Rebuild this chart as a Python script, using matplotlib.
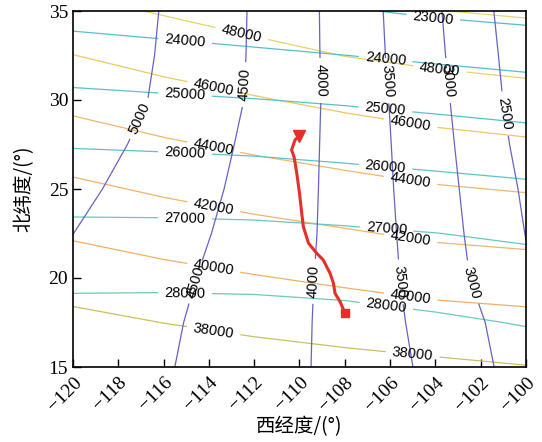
import numpy as np
import matplotlib
matplotlib.use("Agg")
import matplotlib.pyplot as plt

# grid nodes (deg)
lon = [-120, -116, -112, -108, -104, -100]
lat = [15, 17.5, 20, 22.5, 25, 27.5, 30, 32.5, 35]

# purple field, rows = lat, cols = lon
field_a = [
    [4850, 4539, 4224, 3867, 3379, 2794],
    [4827, 4571, 4250, 3859, 3324, 2735],
    [4902, 4622, 4284, 3854, 3270, 2558],
    [5002, 4690, 4330, 3854, 3235, 2490],
    [5115, 4761, 4370, 3848, 3203, 2432],
    [5245, 4837, 4405, 3844, 3173, 2351],
    [5380, 4919, 4446, 3840, 3138, 2281],
    [5440, 4951, 4455, 3828, 3096, 2239],
    [5450, 4975, 4459, 3821, 3063, 2190],
]
# cyan field
field_b = [
    [28875, 28885, 28865, 28770, 28582, 28418],
    [28354, 28365, 28344, 28270, 28127, 27957],
    [27814, 27822, 27798, 27723, 27586, 27426],
    [27233, 27230, 27202, 27120, 27011, 26861],
    [26605, 26581, 26535, 26429, 26300, 26167],
    [25942, 25884, 25811, 25689, 25554, 25406],
    [25217, 25122, 25025, 24900, 24746, 24571],
    [24444, 24309, 24166, 24007, 23827, 23654],
    [23633, 23473, 23284, 23090, 22846, 22692],
]
# orange / yellow field
field_c = [
    [36162, 36649, 37029, 37353, 37635, 37938],
    [37514, 38020, 38457, 38836, 39211, 39455],
    [38865, 39408, 39886, 40328, 40769, 41000],
    [40222, 40829, 41353, 41821, 42306, 42563],
    [41611, 42269, 42848, 43354, 43835, 44129],
    [43059, 43761, 44358, 44892, 45403, 45742],
    [44522, 45235, 45851, 46444, 46939, 47273],
    [45971, 46698, 47343, 48032, 48452, 48765],
    [47463, 48151, 48875, 49619, 49958, 50235],
]

levels_a = [2500, 3000, 3500, 4000, 4500, 5000]
levels_b = [23000, 24000, 25000, 26000, 27000, 28000]
levels_c = [38000, 40000, 42000, 44000, 46000, 48000, 50000]

# label spots
labels_a = [(-117.05, 28.95), (-112.27, 30.85), (-114.1, 19.6), (-108.97, 31.1),
            (-109.12, 19.8), (-105.95, 31.1), (-105.45, 19.8), (-103.36, 31.1),
            (-102.3, 19.8), (-100.85, 29.25)]
labels_b = [(-104.1, 34.6), (-115.05, 33.3), (-106.2, 32.25), (-115.05, 30.3),
            (-106.2, 29.55), (-115.05, 27.1), (-106.2, 26.3), (-115.05, 23.45),
            (-106.15, 22.8), (-115.05, 19.2), (-106.15, 18.6)]
labels_c = [(-112.55, 33.75), (-103.8, 31.8), (-113.8, 30.65), (-105.1, 28.6),
            (-113.8, 27.25), (-105.1, 25.4), (-113.8, 23.9), (-105.1, 22.1),
            (-113.8, 20.45), (-105.1, 18.85), (-113.8, 17.0), (-105.0, 15.7)]

# red track
track_lon = [-110.0, -110.2, -110.35, -110.24, -110.12, -110.0, -109.9, -109.83,
             -109.6, -109.24, -108.95, -108.65, -108.5, -108.43, -108.21, -108.0]
track_lat = [28.0, 27.75, 27.19, 26.81, 25.88, 24.76, 23.63, 22.88,
             21.95, 21.39, 21.01, 20.26, 19.7, 19.14, 18.67, 18.05]

colors_a = "#6464c4"
colors_b = ["#55bcd0", "#55bfcf", "#58c2cc", "#5cc4c8", "#66c8c0", "#6ccab8"]
colors_c = ["#c9c060", "#f2b066", "#f2b468", "#f2b86a", "#eec864", "#e6d468", "#e6d86a"]

X, Y = np.meshgrid(lon, lat)

fig = plt.figure(figsize=(5.42, 4.42), dpi=100)
ax = fig.add_axes([73 / 542, 1 - 367 / 442, 453 / 542, 356 / 442])

cs_c = ax.contour(X, Y, np.array(field_c), levels=levels_c, colors=colors_c, linewidths=0.9)
cs_b = ax.contour(X, Y, np.array(field_b), levels=levels_b, colors=colors_b, linewidths=0.9)
cs_a = ax.contour(X, Y, np.array(field_a), levels=levels_a, colors=colors_a, linewidths=0.9)

for cs, pos in [(cs_c, labels_c), (cs_b, labels_b), (cs_a, labels_a)]:
    txts = ax.clabel(cs, fmt="%d", colors="black", inline=True, inline_spacing=5, manual=pos)
    for t in txts:
        t.set_fontfamily("Liberation Sans")
        t.set_fontsize(10.5)

ax.plot(track_lon, track_lat, color="#e3302a", lw=2.2, zorder=5)
ax.plot(track_lon[0], track_lat[0], marker="v", color="#e3302a", ms=8, zorder=6)
ax.plot(track_lon[-1], track_lat[-1], marker="s", color="#e3302a", ms=6, zorder=6)

ax.set_xlim(-120, -100)
ax.set_ylim(15, 35)
ax.set_xticks(np.arange(-120, -99, 2))
ax.set_yticks([15, 20, 25, 30, 35])
ax.tick_params(direction="in", length=6, width=1, labelsize=14)
ax.tick_params(axis="x", pad=5)
ax.set_xticklabels(["\u2212%d" % abs(v) for v in range(-120, -99, 2)],
                   rotation=45, ha="right", va="top", rotation_mode="anchor",
                   family="Liberation Serif")
ax.set_yticklabels(["15", "20", "25", "30", "35"], family="Liberation Serif")
for s in ax.spines.values():
    s.set_linewidth(1.2)

ax.set_xlabel("西经度/(°)", family=["Noto Sans CJK SC", "DejaVu Sans"], fontsize=14, labelpad=1)
ax.set_ylabel("北纬度/(°)", family=["Noto Sans CJK SC", "DejaVu Sans"], fontsize=14, labelpad=10)

fig.savefig("out.png", dpi=100)
